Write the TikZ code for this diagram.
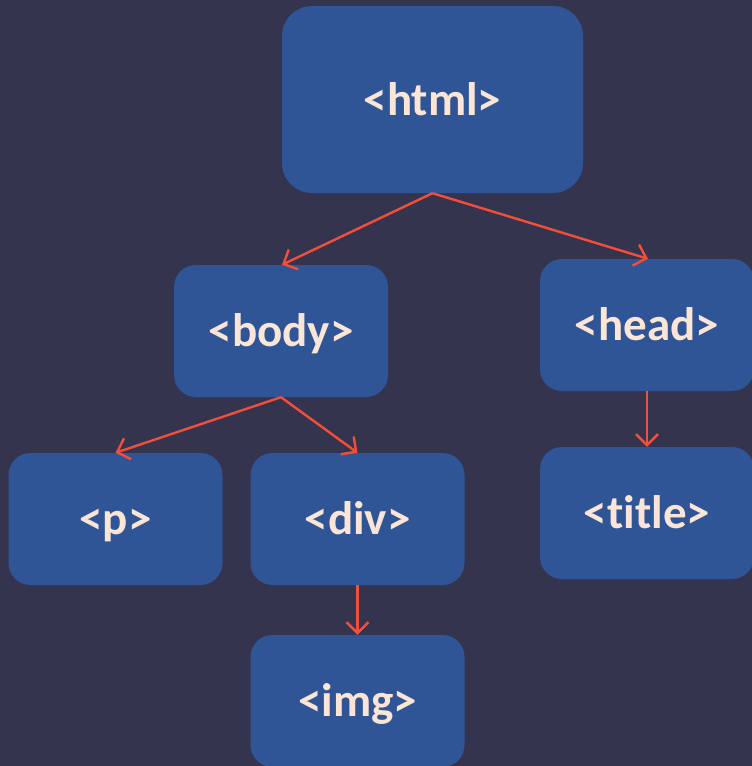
\documentclass[tikz,border=0pt]{standalone}
\usepackage{fontspec}
\setmainfont{Carlito}[Ligatures=NoCommon]
\usetikzlibrary{arrows.meta}
\definecolor{bgdark}{HTML}{34344F}
\definecolor{boxblue}{HTML}{2F5597}
\definecolor{labelcream}{HTML}{FBE5D6}
\definecolor{linkred}{HTML}{F24E3A}
\tikzset{
  tag/.style={fill=boxblue, draw=none, rounded corners=22pt, minimum width=214pt,
    minimum height=132pt, text=labelcream, font=\fontsize{47}{54}\selectfont\bfseries,
    inner sep=0pt, text height=36pt, text depth=5pt},
  link/.style={draw=linkred, line width=2.4pt,
    -{Straight Barb[length=11pt,width=22pt,line width=2.4pt]}}
}
\begin{document}
\begin{tikzpicture}[x=1pt,y=-1pt]
  \fill[bgdark] (0,0) rectangle (752,766);
  \useasboundingbox (0,0) rectangle (752,766);
  \clip (0,0) rectangle (752,766);
  % tree of HTML elements
  \node[tag, minimum width=301pt, minimum height=187pt, rounded corners=30pt] (html) at (432.5,99.5) {<html>};
  \node[tag] (body) at (281,331) {<body>};
  \node[tag] (head) at (647,325) {<head>};
  \node[tag] (title) at (647,513) {<title>};
  \node[tag] (p) at (115.5,519) {<p>};
  \node[tag] (div) at (357.5,519) {<div>};
  \node[tag] (img) at (357.5,701) {<img>};
  % parent-child links
  \draw[link] (html.south) -- ([xshift=1pt]body.north);
  \draw[link] (html.south) -- ([xshift=1pt]head.north);
  \draw[link] (body.south) -- (p.north);
  \draw[link] (body.south) -- (div.north);
  \draw[link] (head.south) -- (title.north);
  \draw[link] (div.south) -- (img.north);
\end{tikzpicture}
\end{document}
